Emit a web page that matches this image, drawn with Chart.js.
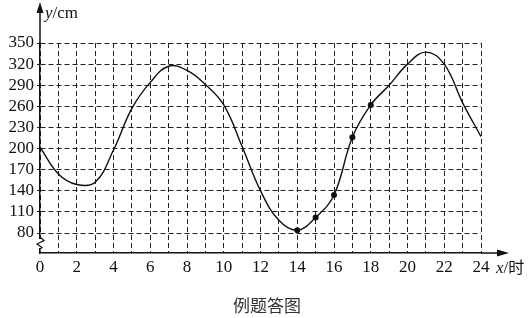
<!DOCTYPE html>
<html>
<head>
<meta charset="utf-8">
<script src="https://cdn.jsdelivr.net/npm/chart.js@4/dist/chart.umd.min.js"></script>
<style>
  html, body { margin: 0; padding: 0; background: #fff; }
  #wrap { position: relative; width: 532px; height: 318px; }
</style>
</head>
<body>
<div id="wrap"><canvas id="tideChart" width="532" height="318"></canvas></div>
<script>
// hours and water depth
const hours = [0, 1, 2, 3, 4, 5, 6, 7, 8, 9, 10, 11, 12, 13, 14, 15, 16, 17, 18, 19, 20, 21, 22, 23, 24];
const depth = [202, 164, 149, 152, 198, 257, 294, 317, 311, 291, 262, 203, 140, 98, 84, 102, 134, 216, 262, 290, 320, 337, 320, 265, 217];
const markedHours = [14, 15, 16, 17, 18];
const yTicks = [80, 110, 140, 170, 200, 230, 260, 290, 320, 350];

const serif = "'Liberation Serif', 'DejaVu Serif', serif";

const axisExtras = {
  id: 'axisExtras',
  afterDraw(chart) {
    const ctx = chart.ctx;
    const a = chart.chartArea;
    ctx.save();
    ctx.strokeStyle = '#111';
    ctx.fillStyle = '#111';
    ctx.lineWidth = 1.5;

    // y axis up to the arrow
    ctx.beginPath();
    ctx.moveTo(a.left, a.top);
    ctx.lineTo(a.left, 8);
    ctx.stroke();
    ctx.beginPath();
    ctx.moveTo(a.left, 2);
    ctx.lineTo(a.left - 3.5, 13);
    ctx.lineTo(a.left + 3.5, 13);
    ctx.closePath();
    ctx.fill();

    // x axis out to the arrow
    ctx.beginPath();
    ctx.moveTo(a.right, a.bottom);
    ctx.lineTo(502, a.bottom);
    ctx.stroke();
    ctx.beginPath();
    ctx.moveTo(509, a.bottom);
    ctx.lineTo(497, a.bottom - 3.5);
    ctx.lineTo(497, a.bottom + 3.5);
    ctx.closePath();
    ctx.fill();

    // break mark on the y axis
    ctx.fillStyle = '#fff';
    ctx.fillRect(a.left - 1.5, 239, 3, 9);
    ctx.lineWidth = 1.2;
    ctx.beginPath();
    ctx.moveTo(a.left, 237);
    ctx.lineTo(a.left + 4, 240.5);
    ctx.lineTo(a.left - 3, 244);
    ctx.lineTo(a.left + 2, 247.5);
    ctx.lineTo(a.left, 249);
    ctx.stroke();

    // axis names
    ctx.fillStyle = '#111';
    ctx.textBaseline = 'alphabetic';
    ctx.textAlign = 'left';
    ctx.font = 'italic 17px ' + serif;
    ctx.fillText('y', 45, 18);
    let w = ctx.measureText('y').width;
    ctx.font = '17px ' + serif;
    ctx.fillText('/cm', 45 + w, 18);

    ctx.font = 'italic 17px ' + serif;
    ctx.fillText('x', 496, 273);
    w = ctx.measureText('x').width;
    ctx.font = '17px ' + serif;
    ctx.fillText('/', 496 + w, 273);
    const w2 = ctx.measureText('/').width;
    ctx.font = "16px 'Noto Sans CJK SC'";
    ctx.fillText('时', 496 + w + w2, 273);

    // caption
    ctx.textAlign = 'center';
    ctx.fillStyle = '#333';
    ctx.font = "17px 'Noto Sans CJK SC'";
    ctx.fillText('例题答图', 267, 312);
    ctx.restore();
  }
};

new Chart(document.getElementById('tideChart'), {
  type: 'line',
  data: {
    datasets: [{
      data: hours.map((h, i) => ({ x: h, y: depth[i] })),
      borderColor: '#111',
      borderWidth: 1.4,
      backgroundColor: '#111',
      tension: 0.4,
      pointRadius: ctx => markedHours.includes(hours[ctx.dataIndex]) ? 3 : 0,
      pointBorderWidth: 0,
      fill: false
    }]
  },
  options: {
    responsive: false,
    animation: false,
    layout: { padding: { top: 43, right: 51, left: 0, bottom: 0 } },
    plugins: { legend: { display: false }, tooltip: { enabled: false } },
    scales: {
      x: {
        type: 'linear',
        min: 0,
        max: 24,
        afterFit: s => { s.height = 65; },
        ticks: {
          stepSize: 1,
          autoSkip: false,
          maxRotation: 0,
          padding: 4,
          color: '#111',
          font: { family: serif, size: 17 },
          callback: v => (v % 2 === 0 ? String(v) : '')
        },
        grid: { color: '#222', lineWidth: 1, drawTicks: false },
        border: { display: true, color: '#111', width: 1.5, dash: [5, 3] }
      },
      y: {
        type: 'linear',
        min: 51.6,
        max: 350,
        afterFit: s => { s.width = 40; },
        afterBuildTicks: s => { s.ticks = yTicks.map(v => ({ value: v })); },
        ticks: {
          autoSkip: false,
          padding: 3,
          color: '#111',
          font: { family: serif, size: 17 }
        },
        grid: { color: '#222', lineWidth: 1, tickLength: 3 },
        border: { display: true, color: '#111', width: 1.5, dash: [5, 3] }
      }
    }
  },
  plugins: [axisExtras]
});
</script>
</body>
</html>
